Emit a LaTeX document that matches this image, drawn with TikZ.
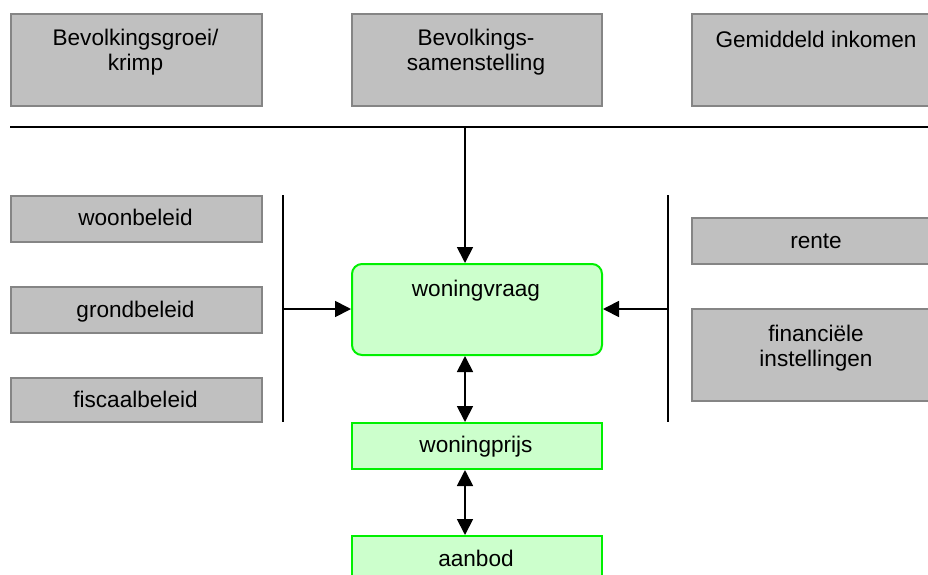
\documentclass[tikz,border=0pt]{standalone}
\usepackage{fontspec}
\setmainfont{Liberation Sans}
\usetikzlibrary{arrows.meta,calc}
\definecolor{boxgray}{HTML}{C0C0C0}
\definecolor{boxedge}{HTML}{858585}
\definecolor{greenfill}{HTML}{CCFFCC}
\definecolor{greenedge}{HTML}{00F000}
\begin{document}
\begin{tikzpicture}[x=1pt,y=-1pt,
  graybox/.style={draw=boxedge, line width=1.6pt, fill=boxgray, inner sep=0pt, anchor=north west},
  greenbox/.style={draw=greenedge, line width=2pt, fill=greenfill, inner sep=0pt, anchor=north west},
  txt/.style={inner sep=0pt, font=\fontsize{22.6}{25}\selectfont, align=center},
  conn/.style={line width=1.8pt, draw=black},
  tip/.style={-{Triangle[length=16pt,width=16pt]}},
  dtip/.style={{Triangle[length=16pt,width=16pt]}-{Triangle[length=16pt,width=16pt]}}
]
\clip (0,0) rectangle (928,574);
\fill[white] (0,0) rectangle (928,574);

% top boxes
\node[graybox, minimum width=251pt, minimum height=92pt] (b1) at (10,13) {};
\node[graybox, minimum width=250pt, minimum height=92pt] (b2) at (351,13) {};
\node[graybox, minimum width=250pt, minimum height=92pt] (b3) at (691,13) {};
\node[txt, anchor=north] (t1) at (135.5,29) {Bevolkingsgroei/\\krimp};
\node[txt, anchor=north] (t2) at (476,29) {Bevolkings-\\samenstelling};
\node[txt, anchor=base] (t3) at (816,47) {Gemiddeld inkomen};

% left boxes
\node[graybox, minimum width=251pt, minimum height=46pt] (l1) at (10,195) {};
\node[graybox, minimum width=251pt, minimum height=46pt] (l2) at (10,286) {};
\node[graybox, minimum width=251pt, minimum height=44pt] (l3) at (10,377) {};
\node[txt, anchor=base] (tl1) at (135.5,225) {woonbeleid};
\node[txt, anchor=base] (tl2) at (135.5,317) {grondbeleid};
\node[txt, anchor=base] (tl3) at (135.5,407) {fiscaalbeleid};

% right boxes
\node[graybox, minimum width=250pt, minimum height=46pt] (r1) at (691,217) {};
\node[graybox, minimum width=250pt, minimum height=92pt] (r2) at (691,308) {};
\node[txt, anchor=base] (tr1) at (816,248) {rente};
\node[txt, anchor=north] (tr2) at (816,325) {financiële\\instellingen};

% green boxes
\node[greenbox, rounded corners=10pt, minimum width=250pt, minimum height=91pt] (wv) at (351,263) {};
\node[greenbox, minimum width=250pt, minimum height=46pt] (wp) at (351,422) {};
\node[greenbox, minimum width=250pt, minimum height=70pt] (ab) at (351,535) {};
\node[txt, anchor=base] (twv) at (476,296.5) {woningvraag};
\node[txt, anchor=base] (twp) at (476,452) {woningprijs};
\node[txt, anchor=base] (tab) at (476,566) {aanbod};

% lines
\coordinate (hl) at (10,127);
\coordinate (hr) at (935,127);
\coordinate (ax) at (465,127);
\coordinate (lvt) at (283,195);
\coordinate (lvb) at (283,422);
\coordinate (lvm) at (283,309);
\coordinate (rvt) at (668,195);
\coordinate (rvb) at (668,422);
\coordinate (rvm) at (668,309);

\draw[conn] (hl) -- (hr);
\draw[conn, tip] (ax) -- (ax |- wv.north);
\draw[conn] (lvt) -- (lvb);
\draw[conn] (rvt) -- (rvb);
\draw[conn, tip] (lvm) -- (wv.west |- lvm);
\draw[conn, tip] (rvm) -- (wv.east |- rvm);
\draw[conn, dtip] (ax |- wv.south) -- (ax |- wp.north);
\draw[conn, dtip] (ax |- wp.south) -- (ax |- ab.north);
\end{tikzpicture}
\end{document}
